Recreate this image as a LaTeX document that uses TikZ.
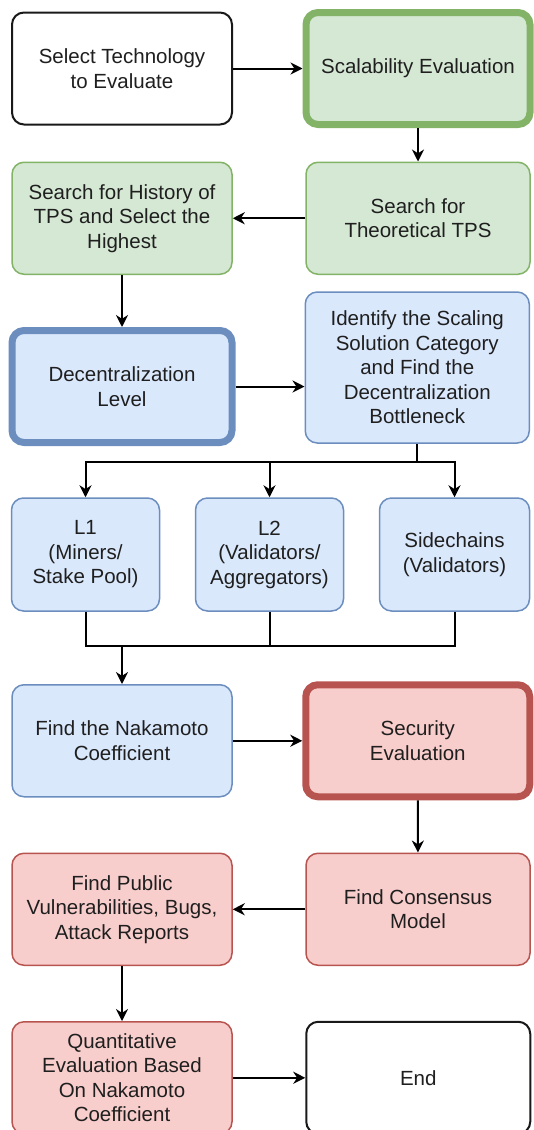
\documentclass[tikz,border=0pt]{standalone}
\usepackage{fontspec}
\setmainfont{Liberation Sans}
\usepackage{xcolor}
\usetikzlibrary{positioning,arrows.meta}
\definecolor{greenfill}{HTML}{D5E8D4}
\definecolor{greenline}{HTML}{82B366}
\definecolor{bluefill}{HTML}{DAE8FC}
\definecolor{blueline}{HTML}{6C8EBF}
\definecolor{redfill}{HTML}{F8CECC}
\definecolor{redline}{HTML}{B85450}

\begin{document}
\begin{tikzpicture}[x=1pt,y=-1pt,line width=2pt,
    >={Stealth[length=12pt,width=12pt]},
    box/.style={draw,rounded corners=12pt,minimum width=220pt,minimum height=112pt,
        line width=1.5pt,align=center,text=black!88,font=\fontsize{20.5}{24.5}\selectfont},
    wide/.style={box,minimum width=224pt},
    small/.style={box,minimum width=148pt,minimum height=113pt},
    blank/.style={draw=black!90,fill=white,line width=2pt},
    greenbox/.style={draw=greenline,fill=greenfill},
    bluebox/.style={draw=blueline,fill=bluefill},
    redbox/.style={draw=redline,fill=redfill},
    phase/.style={line width=7pt}]
    \useasboundingbox (0,0) rectangle (533,1130);

    \node[box,blank] (start) at (122,68.5) {Select Technology\\to Evaluate};
    \node[wide,greenbox,phase] (scal) [right=69.5pt of start] {Scalability Evaluation};
    \node[box,greenbox] (hist) [below=36pt of start] {Search for History of\\TPS and Select the\\Highest};
    \node[wide,greenbox] (theo) [right=72.5pt of hist] {Search for\\Theoretical TPS};
    \node[box,bluebox,phase] (dec) [below=52pt of hist] {Decentralization\\Level};
    \node[wide,bluebox,minimum height=151pt] (ident) [right=69pt of dec,yshift=19pt]
        {Identify the Scaling\\Solution Category\\and Find the\\Decentralization\\Bottleneck};

    \node[small,bluebox] (l1) at (85.5,554.5) {L1\\(Miners/\\Stake Pool)};
    \node[small,bluebox] (l2) [right=34.5pt of l1] {L2\\(Validators/\\Aggregators)};
    \node[small,bluebox] (side) [right=34.5pt of l2,minimum width=150pt] {Sidechains\\(Validators)};

    \node[box,bluebox] (nak) [below=238pt of dec] {Find the Nakamoto\\Coefficient};
    \node[wide,redbox,phase] (sec) [right=69.5pt of nak] {Security\\Evaluation};
    \node[box,redbox] (vuln) [below=55pt of nak] {Find Public\\Vulnerabilities, Bugs,\\Attack Reports};
    \node[wide,redbox] (cons) [right=72.5pt of vuln] {Find Consensus\\Model};
    \node[box,redbox] (quant) [below=55pt of vuln] {Quantitative\\Evaluation Based\\On Nakamoto\\Coefficient};
    \node[wide,blank] (finish) [right=72.5pt of quant] {End};

    \draw[->] (start) -- (scal);
    \draw[->] (scal) -- (theo);
    \draw[->] (theo) -- (hist);
    \draw[->] (hist) -- (dec);
    \draw[->] (dec) -- (dec -| ident.west);

    % split into the three categories
    \draw (ident.south) -- ++(0,18) coordinate (split);
    \draw[->] (split) -| (l1);
    \draw[->] (split) -| (l2);
    \draw[->] (split) -| (side);

    % merge back
    \coordinate (merge) at ([yshift=38pt]nak.north);
    \draw (l1) |- (merge) -| (side);
    \draw (l2) -- (l2 |- merge);
    \draw[->] (merge) -- (nak);

    \draw[->] (nak) -- (sec);
    \draw[->] (sec) -- (cons);
    \draw[->] (cons) -- (vuln);
    \draw[->] (vuln) -- (quant);
    \draw[->] (quant) -- (finish);
\end{tikzpicture}
\end{document}
